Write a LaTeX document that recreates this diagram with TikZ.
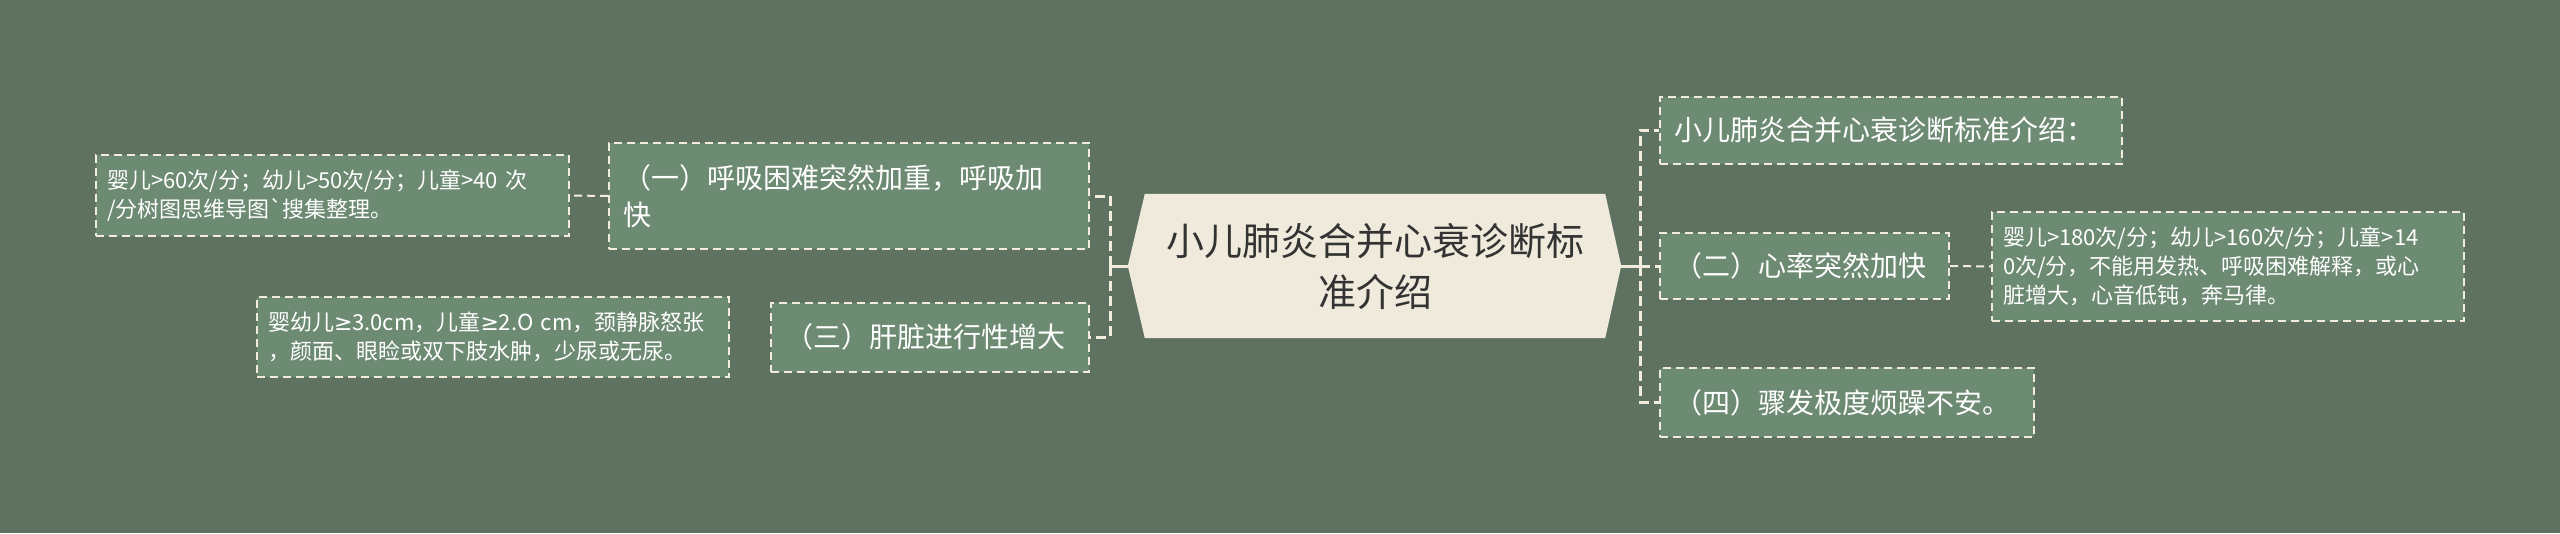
\documentclass[tikz,border=0pt]{standalone}
\usepackage{fontspec}
\setmainfont{Noto Sans CJK SC}[Ligatures=TeXOff]
\newfontfamily\symf{DejaVu Sans}
\definecolor{bgc}{HTML}{5F7262}
\definecolor{boxc}{HTML}{6D8A73}
\definecolor{cream}{HTML}{F1ECDC}
\definecolor{rootc}{HTML}{EFEADB}
\definecolor{ink}{HTML}{333333}
\pgfdeclarelayer{bg}
\pgfsetlayers{bg,main}
\begin{document}
\begin{tikzpicture}[x=1pt,y=-1pt,
  leaf/.style={draw=cream, line width=2pt, dash pattern=on 8pt off 5pt, fill=boxc, text=white, font=\fontsize{22}{29}\selectfont, align=left, inner xsep=11pt, inner ysep=0pt},
  topic/.style={draw=cream, line width=2pt, dash pattern=on 8pt off 5pt, fill=boxc, text=white, font=\fontsize{28}{37}\selectfont, align=left, inner xsep=14pt, inner ysep=0pt},
  link/.style={draw=cream, line width=2pt, dash pattern=on 8pt off 5pt},
  trunk/.style={draw=cream, line width=3pt, dash pattern=on 10pt off 5pt},
  stem/.style={draw=cream, line width=3pt}]
\useasboundingbox (0,0) rectangle (2560,533);
\begin{pgfonlayer}{bg}
\fill[bgc] (0,0) rectangle (2560,533);
\end{pgfonlayer}
\node[font=\fontsize{38}{51}\selectfont, text=ink, align=center, text width=440pt, minimum width=460pt, minimum height=144pt, inner sep=0pt] (root) at (1375,266) {小儿肺炎合并心衰诊断标\\准介绍};
\begin{pgfonlayer}{bg}
\fill[rootc] (root.north west) -- (root.north east) -- ([xshift=16pt]root.east) -- (root.south east) -- (root.south west) -- ([xshift=-17pt]root.west) -- cycle;
\end{pgfonlayer}
\node[topic, minimum width=480pt, minimum height=106pt, text width=452pt] (b1) at (849,196) {（一）呼吸困难突然加重，呼吸加\\快};
\node[leaf, minimum width=473pt, minimum height=81pt, text width=451pt] (a1) at (332.5,195.5) {婴儿>60次/分；幼儿>50次/分；儿童>40~次\\/分树图思维导图`搜集整理。};
\node[leaf, minimum width=472pt, minimum height=80pt, text width=450pt] (c1) at (493,337) {婴幼儿{\symf ≥}3.0cm，儿童{\symf ≥}2.O~cm，颈静脉怒张\\，颜面、眼睑或双下肢水肿，少尿或无尿。};
\node[topic, minimum width=318pt, minimum height=69pt, text width=290pt] (d1) at (930,337) {（三）肝脏进行性增大};
\node[topic, minimum width=462pt, minimum height=67pt, text width=434pt] (e1) at (1891,130) {小儿肺炎合并心衰诊断标准介绍：};
\node[topic, minimum width=289pt, minimum height=66pt, text width=261pt] (f1) at (1804.5,266) {（二）心率突然加快};
\node[leaf, minimum width=472pt, minimum height=109pt, text width=450pt] (g1) at (2228,266.5) {婴儿>180次/分；幼儿>160次/分；儿童>14\\0次/分，不能用发热、呼吸困难解释，或心\\脏增大，心音低钝，奔马律。};
\node[topic, minimum width=374pt, minimum height=69pt, text width=346pt] (h1) at (1847,402.5) {（四）骤发极度烦躁不安。};
\coordinate (jl) at (1110,266);
\coordinate (jr) at (1640,266);
\draw[stem] ([xshift=-17pt]root.west) -- (jl);
\draw[trunk] (jl) |- (b1.east);
\draw[trunk] (jl) |- (d1.east);
\draw[stem] ([xshift=16pt]root.east) -- (jr);
\draw[trunk] (jr) |- (e1.west);
\draw[trunk] (jr) |- (f1.west);
\draw[trunk] (jr) |- (h1.west);
\draw[link] (b1.west) -- (a1.east);
\draw[link] (f1.east) -- (g1.west);
\end{tikzpicture}
\end{document}
